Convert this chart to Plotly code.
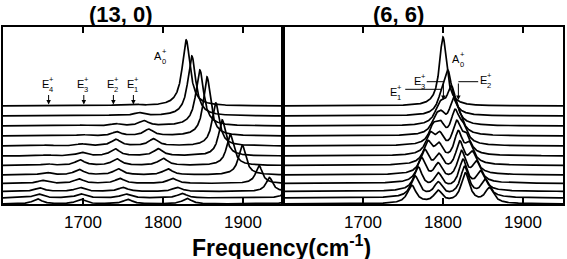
import numpy as np
import plotly.graph_objects as go

# ---------------- data ----------------
FREQ_MIN, FREQ_MAX = 1600, 1950
TICKS = [1700, 1800, 1900]
TICK_LABELS = ["1700", "1800", "1900"]

# vertical offsets of the stacked spectra (top -> bottom)
OFFSETS = [98, 88, 78, 68, 58, 48, 38.5, 29, 20.5, 12.5, 6, 0]

# (13, 0) panel: peak centres / heights for each spectrum
L_A0_POS = [1829, 1836, 1846, 1855, 1866, 1874, 1884, 1899, 1920, 1933, 1958, 1968]
L_A0_H = [66, 60, 56, 59, 43, 36, 31, 30, 18, 14, 14, 20]
L_E1_POS = [1764, 1770, 1776, 1782, 1788, 1794, 1800, 1806, 1812, 1818, 1824, 1830]
L_E1_H = [1.5, 3, 5, 6.5, 7, 7, 7, 6, 5, 4, 4.5, 5.5]
L_E2_POS = [1739, 1740, 1741, 1742, 1741, 1740, 1742, 1744, 1746, 1750, 1753, 1756]
L_E2_H = [0.5, 1, 2, 4, 6.5, 7, 6.5, 6, 5, 4, 4, 4.5]
L_E3_POS = [1702, 1701, 1700, 1699, 1698, 1698, 1696, 1695, 1695, 1696, 1697, 1697]
L_E3_H = [0.3, 0.5, 0.8, 1.2, 2, 3.5, 5.5, 5.5, 4.5, 4, 4, 4.5]
L_E4_POS = [1659, 1658, 1657, 1656, 1655, 1655, 1655, 1654, 1649, 1646, 1644, 1643]
L_E4_H = [0.2, 0.3, 0.4, 0.5, 0.8, 1, 1.5, 2.5, 3, 3.5, 4, 5]
L_A0_W = [6, 6, 6, 5.5, 5.5, 5.5, 5.5, 5.5, 5, 5, 5, 5]
L_E_W = 7

# (6, 6) panel: components 1, 3, 0, 2
R_P1_POS = [1800, 1797, 1794, 1791, 1788, 1784, 1781, 1777, 1773, 1769, 1765, 1761]
R_P1_H = [0, 5, 9, 13, 16, 19, 21, 23, 24, 23, 21, 18]
R_P3_POS = [1800, 1800, 1799, 1798, 1797, 1796, 1795, 1795, 1794, 1794, 1794, 1794]
R_P3_H = [0, 9, 12, 14, 16, 17, 17, 17, 17, 16, 14, 12]
R_P0_POS = [1800, 1806, 1810, 1813, 1815, 1817, 1819, 1821, 1823, 1825, 1827, 1828]
R_P0_H = [69, 36, 31, 30, 30, 30, 30, 30, 30, 30, 30, 30]
R_P2_POS = [1800, 1809, 1815, 1820, 1825, 1829, 1833, 1837, 1842, 1847, 1853, 1858]
R_P2_H = [0, 5, 8, 11, 14, 16, 18, 19, 19, 18, 17, 15]
R_W = [5.4, 6, 6.5, 6.5, 6.5, 6.5, 6.5, 6.5, 6.5, 6.5, 6.5, 6.5]

PANEL_TITLES = ["(13, 0)", "(6, 6)"]
X_TITLE = "Frequency(cm<sup>-1</sup>)"

# ---------------- build figure ----------------
FONT = "Liberation Sans, Arial, Helvetica, sans-serif"
x = np.linspace(FREQ_MIN, FREQ_MAX, 1401)


def lor(c, h, w):
    return h * w * w / ((x - c) ** 2 + w * w)


fig = go.Figure()

for i, off in enumerate(OFFSETS):
    y = (lor(L_A0_POS[i], L_A0_H[i], L_A0_W[i]) + lor(L_E1_POS[i], L_E1_H[i], L_E_W)
         + lor(L_E2_POS[i], L_E2_H[i], L_E_W) + lor(L_E3_POS[i], L_E3_H[i], L_E_W)
         + lor(L_E4_POS[i], L_E4_H[i], L_E_W)) + off
    fig.add_trace(go.Scatter(x=x, y=y, mode="lines", line=dict(color="black", width=1.7),
                             xaxis="x", yaxis="y", showlegend=False, hoverinfo="skip"))

for i, off in enumerate(OFFSETS):
    w = R_W[i]
    y = (lor(R_P1_POS[i], R_P1_H[i], w) + lor(R_P3_POS[i], R_P3_H[i], w)
         + lor(R_P0_POS[i], R_P0_H[i], w) + lor(R_P2_POS[i], R_P2_H[i], w)) + off
    fig.add_trace(go.Scatter(x=x, y=y, mode="lines", line=dict(color="black", width=1.7),
                             xaxis="x2", yaxis="y2", showlegend=False, hoverinfo="skip"))

xaxis_common = dict(range=[FREQ_MIN, FREQ_MAX], tickvals=TICKS, ticktext=TICK_LABELS,
                    ticks="inside", ticklen=6, tickwidth=1.5, tickcolor="black",
                    showline=True, linecolor="black", linewidth=1.5, mirror="ticks",
                    showgrid=False, zeroline=False,
                    tickfont=dict(family=FONT, size=17, color="black"),
                    ticklabelstandoff=2)
yaxis_common = dict(range=[0, 177], showticklabels=False, ticks="", showline=True,
                    linecolor="black", linewidth=1.5, mirror=True, showgrid=False,
                    zeroline=False)

fig.update_layout(
    width=567, height=259,
    margin=dict(l=3, r=2, t=27, b=55),
    paper_bgcolor="white", plot_bgcolor="white",
    xaxis=dict(domain=[0, 0.5], anchor="y", **xaxis_common),
    yaxis=dict(domain=[0, 1], anchor="x", **yaxis_common),
    xaxis2=dict(domain=[0.5, 1], anchor="y2", **xaxis_common),
    yaxis2=dict(domain=[0, 1], anchor="x2", **yaxis_common),
)

ann = []
# panel titles
ann.append(dict(text="<b>%s</b>" % PANEL_TITLES[0], x=0.211, y=1.07, xref="paper", yref="paper",
                showarrow=False, font=dict(family=FONT, size=22, color="black"),
                xanchor="center", yanchor="middle"))
ann.append(dict(text="<b>%s</b>" % PANEL_TITLES[1], x=0.7055, y=1.07, xref="paper", yref="paper",
                showarrow=False, font=dict(family=FONT, size=22, color="black"),
                xanchor="center", yanchor="middle"))
# x title
ann.append(dict(text="<b>%s</b>" % X_TITLE, x=0.498, y=-0.235, xref="paper", yref="paper",
                showarrow=False, font=dict(family=FONT, size=23, color="black"),
                xanchor="center", yanchor="middle"))


def mode_label(letter, sup, sub, xv, yv, xr, yr):
    ann.append(dict(text=letter, x=xv, y=yv, xref=xr, yref=yr, showarrow=False,
                    font=dict(family=FONT, size=11, color="black"),
                    xanchor="center", yanchor="middle", xshift=-3))
    ann.append(dict(text="%s<br>%s" % (sup, sub), x=xv, y=yv, xref=xr, yref=yr, showarrow=False,
                    font=dict(family=FONT, size=7.5, color="black"),
                    xanchor="center", yanchor="middle", xshift=3, yshift=0))


# left panel mode labels and arrows
LEFT_MARKS = [("4", 1657), ("3", 1701), ("2", 1738), ("1", 1763)]
for sub, fx in LEFT_MARKS:
    mode_label("E", "+", sub, fx, 120, "x", "y")
    ann.append(dict(text="", x=fx, y=99.5, xref="x", yref="y", showarrow=True,
                    ax=0, ay=-11, arrowhead=2, arrowsize=0.9, arrowwidth=1, arrowcolor="black"))
mode_label("A", "+", "0", 1798, 148, "x", "y")

# right panel labels
mode_label("A", "+", "0", 1820.5, 145, "x2", "y2")
mode_label("E", "+", "1", 1742, 112, "x2", "y2")
mode_label("E", "+", "3", 1772, 123, "x2", "y2")
mode_label("E", "+", "2", 1854, 124, "x2", "y2")

shapes = [
    dict(type="line", x0=1752.8, x1=1797.7, y0=114.7, y1=114.7, xref="x2", yref="y2",
         line=dict(color="black", width=1)),
    dict(type="line", x0=1779.7, x1=1800.5, y0=122.3, y1=122.3, xref="x2", yref="y2",
         line=dict(color="black", width=1)),
    dict(type="line", x0=1844, x1=1819.2, y0=122.3, y1=122.3, xref="x2", yref="y2",
         line=dict(color="black", width=1)),
]
ann.append(dict(text="", x=1800.5, y=104, xref="x2", yref="y2", showarrow=True,
                ax=0, ay=-18, arrowhead=2, arrowsize=0.9, arrowwidth=1, arrowcolor="black"))
ann.append(dict(text="", x=1819.2, y=104, xref="x2", yref="y2", showarrow=True,
                ax=0, ay=-18, arrowhead=2, arrowsize=0.9, arrowwidth=1, arrowcolor="black"))

fig.update_layout(annotations=ann, shapes=shapes)
fig.write_html("out.html", config={"displayModeBar": False},
               post_script="document.body.style.margin='0';")
